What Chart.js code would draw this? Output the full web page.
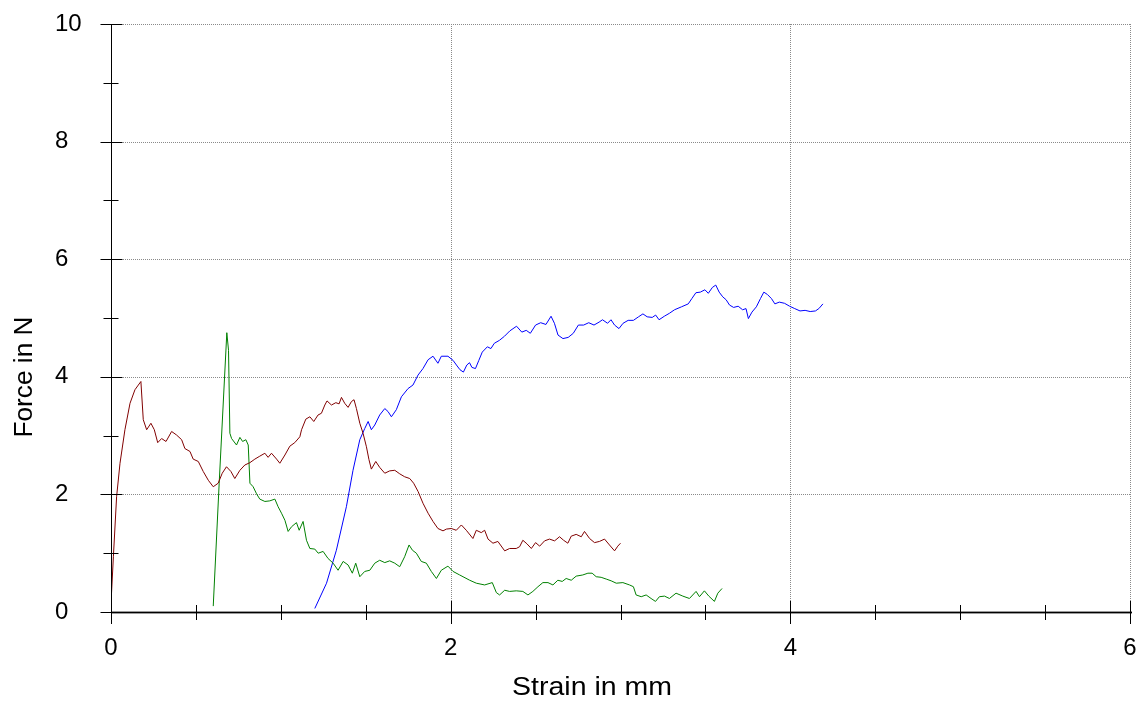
<!DOCTYPE html>
<html>
<head>
<meta charset="utf-8">
<script src="https://cdn.jsdelivr.net/npm/chart.js@4"></script>
<style>
  html, body { margin: 0; padding: 0; background: #fff; }
  #wrap { width: 1140px; height: 702px; }
</style>
</head>
<body>
<div id="wrap"><canvas id="c" width="1140" height="702"></canvas></div>
<script>
// Tensile test curves: force (N) against strain (mm) for three specimens.
const maroonStrain = [0, 0.014, 0.033, 0.053, 0.082, 0.112, 0.141, 0.161, 0.176, 0.19, 0.21, 0.235, 0.255, 0.275, 0.298, 0.324, 0.357, 0.386, 0.416, 0.435, 0.465, 0.484, 0.514, 0.543, 0.573, 0.602, 0.631, 0.655, 0.68, 0.706, 0.729, 0.759, 0.788, 0.818, 0.847, 0.876, 0.906, 0.925, 0.945, 0.975, 0.994, 1.024, 1.053, 1.082, 1.112, 1.122, 1.147, 1.171, 1.194, 1.219, 1.239, 1.259, 1.272, 1.298, 1.324, 1.343, 1.357, 1.376, 1.396, 1.416, 1.431, 1.445, 1.465, 1.484, 1.504, 1.519, 1.533, 1.559, 1.582, 1.612, 1.641, 1.671, 1.7, 1.729, 1.759, 1.782, 1.808, 1.837, 1.867, 1.896, 1.925, 1.955, 1.975, 2.004, 2.033, 2.063, 2.092, 2.131, 2.151, 2.18, 2.2, 2.22, 2.249, 2.278, 2.318, 2.347, 2.386, 2.406, 2.425, 2.449, 2.475, 2.5, 2.524, 2.553, 2.582, 2.612, 2.641, 2.665, 2.69, 2.71, 2.739, 2.769, 2.788, 2.818, 2.847, 2.876, 2.906, 2.935, 2.965, 2.984, 3.0];
const maroonForce = [0.15, 0.94, 1.96, 2.53, 3.10, 3.55, 3.78, 3.86, 3.92, 3.27, 3.10, 3.21, 3.10, 2.88, 2.95, 2.90, 3.07, 3.01, 2.93, 2.78, 2.73, 2.60, 2.56, 2.39, 2.24, 2.13, 2.19, 2.36, 2.47, 2.39, 2.27, 2.41, 2.50, 2.54, 2.60, 2.65, 2.70, 2.63, 2.70, 2.60, 2.53, 2.67, 2.82, 2.88, 2.98, 3.10, 3.28, 3.32, 3.24, 3.35, 3.38, 3.52, 3.59, 3.52, 3.56, 3.54, 3.65, 3.55, 3.48, 3.58, 3.61, 3.46, 3.21, 3.04, 2.81, 2.59, 2.43, 2.56, 2.46, 2.36, 2.40, 2.41, 2.35, 2.30, 2.27, 2.19, 2.05, 1.85, 1.68, 1.54, 1.42, 1.38, 1.41, 1.42, 1.39, 1.48, 1.39, 1.25, 1.39, 1.35, 1.39, 1.24, 1.17, 1.20, 1.04, 1.08, 1.08, 1.11, 1.22, 1.16, 1.08, 1.18, 1.12, 1.21, 1.24, 1.21, 1.28, 1.22, 1.17, 1.29, 1.32, 1.28, 1.37, 1.25, 1.18, 1.20, 1.24, 1.14, 1.04, 1.12, 1.17];

const greenStrain = [0.602, 0.637, 0.682, 0.692, 0.700, 0.71, 0.739, 0.759, 0.775, 0.794, 0.808, 0.818, 0.837, 0.857, 0.876, 0.906, 0.935, 0.965, 0.984, 1.004, 1.024, 1.043, 1.063, 1.092, 1.108, 1.131, 1.151, 1.171, 1.2, 1.22, 1.249, 1.278, 1.308, 1.337, 1.367, 1.396, 1.421, 1.441, 1.465, 1.494, 1.524, 1.553, 1.582, 1.612, 1.641, 1.671, 1.7, 1.729, 1.755, 1.775, 1.798, 1.827, 1.857, 1.886, 1.916, 1.945, 1.984, 2.014, 2.053, 2.112, 2.151, 2.2, 2.245, 2.269, 2.288, 2.318, 2.347, 2.386, 2.425, 2.455, 2.484, 2.514, 2.543, 2.573, 2.602, 2.631, 2.657, 2.68, 2.71, 2.739, 2.778, 2.808, 2.833, 2.857, 2.886, 2.916, 2.945, 2.975, 3.014, 3.053, 3.076, 3.092, 3.122, 3.151, 3.18, 3.206, 3.229, 3.259, 3.288, 3.327, 3.367, 3.406, 3.445, 3.465, 3.494, 3.52, 3.553, 3.573, 3.598];
const greenForce = [0.10, 2.19, 4.75, 4.45, 3.04, 2.95, 2.84, 2.97, 2.90, 2.93, 2.84, 2.19, 2.13, 2.01, 1.92, 1.88, 1.89, 1.92, 1.79, 1.68, 1.56, 1.37, 1.45, 1.52, 1.39, 1.54, 1.22, 1.08, 1.07, 1.00, 1.03, 0.91, 0.83, 0.71, 0.86, 0.80, 0.66, 0.83, 0.60, 0.69, 0.71, 0.83, 0.88, 0.84, 0.87, 0.83, 0.77, 0.94, 1.14, 1.05, 1.00, 0.86, 0.83, 0.69, 0.57, 0.71, 0.78, 0.69, 0.63, 0.54, 0.49, 0.46, 0.50, 0.33, 0.29, 0.37, 0.35, 0.36, 0.35, 0.29, 0.35, 0.43, 0.50, 0.50, 0.46, 0.54, 0.52, 0.57, 0.54, 0.61, 0.63, 0.66, 0.66, 0.60, 0.59, 0.56, 0.53, 0.49, 0.50, 0.46, 0.43, 0.29, 0.26, 0.29, 0.23, 0.18, 0.26, 0.27, 0.23, 0.32, 0.27, 0.23, 0.35, 0.26, 0.36, 0.27, 0.18, 0.32, 0.40];

const blueStrain = [1.2, 1.269, 1.327, 1.386, 1.425, 1.465, 1.494, 1.514, 1.533, 1.553, 1.582, 1.612, 1.631, 1.651, 1.68, 1.71, 1.749, 1.778, 1.808, 1.837, 1.867, 1.896, 1.925, 1.945, 1.984, 2.014, 2.034, 2.055, 2.075, 2.095, 2.111, 2.125, 2.146, 2.166, 2.186, 2.216, 2.237, 2.257, 2.287, 2.317, 2.348, 2.388, 2.419, 2.445, 2.469, 2.5, 2.53, 2.561, 2.591, 2.611, 2.632, 2.661, 2.692, 2.722, 2.752, 2.783, 2.813, 2.844, 2.874, 2.894, 2.924, 2.944, 2.965, 2.991, 3.015, 3.045, 3.076, 3.106, 3.132, 3.157, 3.187, 3.207, 3.227, 3.258, 3.288, 3.318, 3.359, 3.399, 3.42, 3.444, 3.47, 3.497, 3.517, 3.541, 3.561, 3.581, 3.602, 3.622, 3.642, 3.666, 3.693, 3.719, 3.739, 3.753, 3.774, 3.8, 3.824, 3.844, 3.865, 3.889, 3.909, 3.935, 3.966, 3.996, 4.026, 4.057, 4.087, 4.117, 4.148, 4.168, 4.192];
const blueForce = [0.06, 0.49, 1.05, 1.79, 2.41, 2.93, 3.12, 3.24, 3.10, 3.18, 3.35, 3.46, 3.41, 3.32, 3.44, 3.66, 3.80, 3.86, 4.03, 4.14, 4.29, 4.35, 4.23, 4.35, 4.35, 4.28, 4.20, 4.12, 4.08, 4.20, 4.24, 4.16, 4.14, 4.28, 4.42, 4.51, 4.48, 4.57, 4.62, 4.69, 4.78, 4.86, 4.76, 4.79, 4.74, 4.88, 4.92, 4.89, 5.03, 4.91, 4.71, 4.65, 4.67, 4.74, 4.88, 4.88, 4.92, 4.88, 4.93, 4.97, 4.91, 4.97, 4.88, 4.82, 4.91, 4.96, 4.96, 5.02, 5.07, 5.02, 5.01, 5.05, 4.97, 5.03, 5.08, 5.14, 5.19, 5.24, 5.33, 5.43, 5.44, 5.48, 5.42, 5.52, 5.56, 5.44, 5.36, 5.31, 5.22, 5.18, 5.20, 5.14, 5.16, 4.99, 5.10, 5.19, 5.33, 5.44, 5.40, 5.33, 5.24, 5.27, 5.25, 5.20, 5.16, 5.12, 5.13, 5.11, 5.12, 5.16, 5.24];

// Labelled tick values (unlabelled ticks fall between them)
const xLabelValues = [0, 2, 4, 6];
const yLabelValues = [0, 2, 4, 6, 8, 10];
const xTitle = 'Strain in mm';
const yTitle = 'Force in N';

const FONT = "'Liberation Sans', Arial, sans-serif";

function pairs(xs, ys) {
  return xs.map((x, i) => ({ x: x, y: ys[i] }));
}

function crisp(v) { return Math.round(v) + 0.5; }

// Dotted grid, axis lines with crossing tick marks, and axis titles
const axesPlugin = {
  id: 'axesDecor',
  beforeDatasetsDraw(chart) {
    const { ctx, chartArea: a, scales: { x, y } } = chart;
    ctx.save();
    ctx.strokeStyle = '#8a8a8a';
    ctx.lineWidth = 1;
    ctx.setLineDash([1, 1]);
    ctx.beginPath();
    yLabelValues.forEach(v => {
      if (v === 0) return;
      const py = crisp(y.getPixelForValue(v));
      ctx.moveTo(a.left, py); ctx.lineTo(a.right, py);
    });
    xLabelValues.forEach(v => {
      if (v === 0) return;
      const px = crisp(x.getPixelForValue(v));
      ctx.moveTo(px, a.top); ctx.lineTo(px, a.bottom);
    });
    ctx.stroke();
    ctx.restore();
  },
  afterDatasetsDraw(chart) {
    const { ctx, chartArea: a, scales: { x, y } } = chart;
    ctx.save();
    // x axis band
    const y0 = Math.round(y.getPixelForValue(0));
    ctx.fillStyle = '#9a9a9a';
    ctx.fillRect(a.left, y0 - 1, a.right - a.left + 2, 3);
    ctx.strokeStyle = '#000';
    ctx.lineWidth = 1;
    ctx.beginPath();
    ctx.moveTo(a.left, y0 + 0.5); ctx.lineTo(a.right + 2, y0 + 0.5);
    // y axis
    const x0 = crisp(x.getPixelForValue(0));
    ctx.moveTo(x0, a.top); ctx.lineTo(x0, y0 + 1);
    // x tick marks
    x.ticks.forEach(t => {
      const px = crisp(x.getPixelForValue(t.value));
      const major = xLabelValues.includes(t.value);
      ctx.moveTo(px, major ? y0 - 11 : y0 - 7);
      ctx.lineTo(px, major ? y0 + 12 : y0 + 8);
    });
    // y tick marks
    y.ticks.forEach(t => {
      const py = crisp(y.getPixelForValue(t.value));
      const major = yLabelValues.includes(t.value);
      ctx.moveTo(major ? x0 - 11 : x0 - 8, py);
      ctx.lineTo(major ? x0 + 11 : x0 + 7, py);
    });
    ctx.stroke();

    // axis titles (slightly widened lettering)
    ctx.fillStyle = '#000';
    ctx.font = '25px ' + FONT;
    ctx.textAlign = 'center';
    ctx.textBaseline = 'middle';
    ctx.save();
    ctx.translate(592, 688);
    ctx.scale(1.14, 1);
    ctx.fillText(xTitle, 0, 0);
    ctx.restore();
    ctx.translate(25, 377);
    ctx.rotate(-Math.PI / 2);
    ctx.scale(1.05, 1);
    ctx.fillText(yTitle, 0, 0);
    ctx.restore();
  }
};

const lineStyle = { showLine: true, pointRadius: 0, pointHoverRadius: 0, borderWidth: 1, tension: 0, fill: false };

new Chart(document.getElementById('c'), {
  type: 'scatter',
  data: {
    datasets: [
      Object.assign({ data: pairs(maroonStrain, maroonForce), borderColor: '#800000' }, lineStyle),
      Object.assign({ data: pairs(greenStrain, greenForce), borderColor: '#008000' }, lineStyle),
      Object.assign({ data: pairs(blueStrain, blueForce), borderColor: '#0000ff' }, lineStyle)
    ]
  },
  options: {
    responsive: false,
    animation: false,
    devicePixelRatio: 1,
    layout: { padding: { left: 55, right: 10, top: 24, bottom: 0 } },
    plugins: { legend: { display: false }, tooltip: { enabled: false } },
    scales: {
      x: {
        type: 'linear', min: 0, max: 6,
        grid: { display: false, drawTicks: false },
        border: { display: false },
        ticks: {
          stepSize: 0.5, autoSkip: false, maxRotation: 0, padding: 22, color: '#000',
          font: { family: FONT, size: 24 },
          callback: v => xLabelValues.includes(v) ? String(v) : ''
        },
        afterFit: s => { s.height = 90; s.paddingLeft = 0; s.paddingRight = 0; }
      },
      y: {
        type: 'linear', min: 0, max: 10,
        grid: { display: false, drawTicks: false },
        border: { display: false },
        ticks: {
          stepSize: 1, autoSkip: false, crossAlign: 'far', padding: 0, color: '#000',
          font: { family: FONT, size: 24 },
          callback: v => yLabelValues.includes(v) ? String(v) : ''
        },
        afterFit: s => { s.width = 56; s.paddingTop = 0; s.paddingBottom = 0; }
      }
    }
  },
  plugins: [axesPlugin]
});
</script>
</body>
</html>
